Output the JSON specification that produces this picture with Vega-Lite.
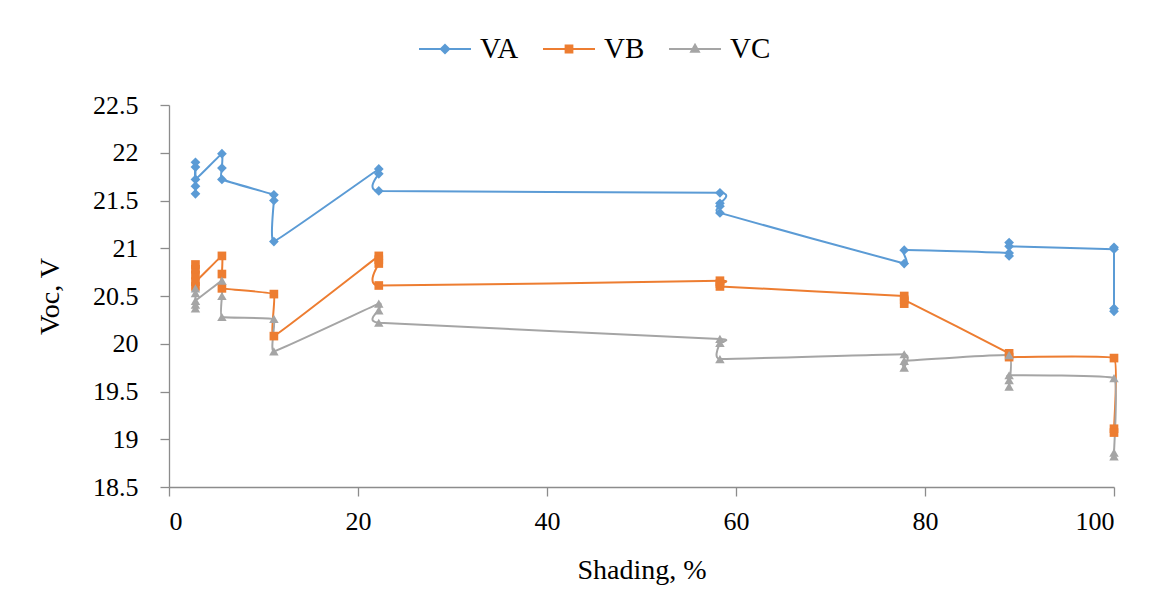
{
  "$schema": "https://vega.github.io/schema/vega-lite/v6.json",
  "width": 945,
  "height": 382,
  "autosize": {"type": "none"},
  "padding": {"left": 169, "top": 105, "right": 47, "bottom": 128},
  "background": "white",
  "config": {
    "view": {"stroke": null},
    "font": "Liberation Serif",
    "axis": {
      "grid": false,
      "domainColor": "#8c8c8c",
      "tickColor": "#8c8c8c",
      "domainWidth": 1.3,
      "tickWidth": 1.3,
      "labelColor": "#000000",
      "titleColor": "#000000",
      "labelFont": "Liberation Serif",
      "titleFont": "Liberation Serif",
      "labelFontSize": 26,
      "titleFontSize": 28,
      "titleFontWeight": "normal"
    }
  },
  "data": {
    "values": [
      {"s": "VA", "i": 1, "x": 2.8, "y": 21.57},
      {"s": "VA", "i": 2, "x": 2.8, "y": 21.65},
      {"s": "VA", "i": 3, "x": 2.8, "y": 21.85},
      {"s": "VA", "i": 4, "x": 2.8, "y": 21.9},
      {"s": "VA", "i": 5, "x": 2.8, "y": 21.72},
      {"s": "VA", "i": 6, "x": 5.6, "y": 21.99},
      {"s": "VA", "i": 7, "x": 5.6, "y": 21.84},
      {"s": "VA", "i": 8, "x": 5.6, "y": 21.72},
      {"s": "VA", "i": 9, "x": 11.1, "y": 21.56},
      {"s": "VA", "i": 10, "x": 11.1, "y": 21.5},
      {"s": "VA", "i": 11, "x": 11.1, "y": 21.07},
      {"s": "VA", "i": 12, "x": 22.2, "y": 21.83},
      {"s": "VA", "i": 13, "x": 22.2, "y": 21.78},
      {"s": "VA", "i": 14, "x": 22.2, "y": 21.6},
      {"s": "VA", "i": 15, "x": 58.3, "y": 21.58},
      {"s": "VA", "i": 16, "x": 58.3, "y": 21.47},
      {"s": "VA", "i": 17, "x": 58.3, "y": 21.44},
      {"s": "VA", "i": 18, "x": 58.3, "y": 21.37},
      {"s": "VA", "i": 19, "x": 77.8, "y": 20.84},
      {"s": "VA", "i": 20, "x": 77.8, "y": 20.98},
      {"s": "VA", "i": 21, "x": 88.9, "y": 20.95},
      {"s": "VA", "i": 22, "x": 88.9, "y": 20.92},
      {"s": "VA", "i": 23, "x": 88.9, "y": 21.06},
      {"s": "VA", "i": 24, "x": 88.9, "y": 21.02},
      {"s": "VA", "i": 25, "x": 100, "y": 20.99},
      {"s": "VA", "i": 26, "x": 100, "y": 21.01},
      {"s": "VA", "i": 27, "x": 100, "y": 20.37},
      {"s": "VA", "i": 28, "x": 100, "y": 20.34},
      {"s": "VB", "i": 1, "x": 2.8, "y": 20.6},
      {"s": "VB", "i": 2, "x": 2.8, "y": 20.72},
      {"s": "VB", "i": 3, "x": 2.8, "y": 20.78},
      {"s": "VB", "i": 4, "x": 2.8, "y": 20.83},
      {"s": "VB", "i": 5, "x": 2.8, "y": 20.65},
      {"s": "VB", "i": 6, "x": 5.6, "y": 20.92},
      {"s": "VB", "i": 7, "x": 5.6, "y": 20.73},
      {"s": "VB", "i": 8, "x": 5.6, "y": 20.58},
      {"s": "VB", "i": 9, "x": 11.1, "y": 20.52},
      {"s": "VB", "i": 10, "x": 11.1, "y": 20.08},
      {"s": "VB", "i": 11, "x": 22.2, "y": 20.92},
      {"s": "VB", "i": 12, "x": 22.2, "y": 20.88},
      {"s": "VB", "i": 13, "x": 22.2, "y": 20.84},
      {"s": "VB", "i": 14, "x": 22.2, "y": 20.61},
      {"s": "VB", "i": 15, "x": 58.3, "y": 20.66},
      {"s": "VB", "i": 16, "x": 58.3, "y": 20.63},
      {"s": "VB", "i": 17, "x": 58.3, "y": 20.6},
      {"s": "VB", "i": 18, "x": 77.8, "y": 20.5},
      {"s": "VB", "i": 19, "x": 77.8, "y": 20.42},
      {"s": "VB", "i": 20, "x": 77.8, "y": 20.46},
      {"s": "VB", "i": 21, "x": 88.9, "y": 19.9},
      {"s": "VB", "i": 22, "x": 88.9, "y": 19.86},
      {"s": "VB", "i": 23, "x": 100, "y": 19.85},
      {"s": "VB", "i": 24, "x": 100, "y": 19.11},
      {"s": "VB", "i": 25, "x": 100, "y": 19.07},
      {"s": "VC", "i": 1, "x": 2.8, "y": 20.58},
      {"s": "VC", "i": 2, "x": 2.8, "y": 20.53},
      {"s": "VC", "i": 3, "x": 2.8, "y": 20.37},
      {"s": "VC", "i": 4, "x": 2.8, "y": 20.41},
      {"s": "VC", "i": 5, "x": 2.8, "y": 20.45},
      {"s": "VC", "i": 6, "x": 5.6, "y": 20.66},
      {"s": "VC", "i": 7, "x": 5.6, "y": 20.5},
      {"s": "VC", "i": 8, "x": 5.6, "y": 20.28},
      {"s": "VC", "i": 9, "x": 11.1, "y": 20.26},
      {"s": "VC", "i": 10, "x": 11.1, "y": 19.92},
      {"s": "VC", "i": 11, "x": 22.2, "y": 20.42},
      {"s": "VC", "i": 12, "x": 22.2, "y": 20.35},
      {"s": "VC", "i": 13, "x": 22.2, "y": 20.22},
      {"s": "VC", "i": 14, "x": 58.3, "y": 20.05},
      {"s": "VC", "i": 15, "x": 58.3, "y": 20.01},
      {"s": "VC", "i": 16, "x": 58.3, "y": 19.84},
      {"s": "VC", "i": 17, "x": 77.8, "y": 19.89},
      {"s": "VC", "i": 18, "x": 77.8, "y": 19.75},
      {"s": "VC", "i": 19, "x": 77.8, "y": 19.82},
      {"s": "VC", "i": 20, "x": 88.9, "y": 19.88},
      {"s": "VC", "i": 21, "x": 88.9, "y": 19.55},
      {"s": "VC", "i": 22, "x": 88.9, "y": 19.62},
      {"s": "VC", "i": 23, "x": 88.9, "y": 19.67},
      {"s": "VC", "i": 24, "x": 100, "y": 19.64},
      {"s": "VC", "i": 25, "x": 100, "y": 18.86},
      {"s": "VC", "i": 26, "x": 100, "y": 18.82}
    ]
  },
  "encoding": {
    "x": {
      "field": "x",
      "type": "quantitative",
      "scale": {"domain": [0, 100], "nice": false, "zero": false},
      "axis": {
        "values": [0, 20, 40, 60, 80, 100],
        "title": "Shading, %",
        "labelFont": "Liberation Serif",
        "titleFont": "Liberation Serif",
        "labelFontSize": 26,
        "titleFontSize": 28,
        "tickSize": 9,
        "labelPadding": 12,
        "titlePadding": 22
      }
    },
    "y": {
      "field": "y",
      "type": "quantitative",
      "scale": {"domain": [18.5, 22.5], "nice": false, "zero": false},
      "axis": {
        "values": [18.5, 19, 19.5, 20, 20.5, 21, 21.5, 22, 22.5],
        "format": "~g",
        "title": "Voc, V",
        "labelFont": "Liberation Serif",
        "titleFont": "Liberation Serif",
        "labelFontSize": 26,
        "titleFontSize": 28,
        "tickSize": 9,
        "labelPadding": 22,
        "titlePadding": 28
      }
    },
    "color": {
      "field": "s",
      "type": "nominal",
      "scale": {"domain": ["VA", "VB", "VC"], "range": ["#5B9BD5", "#ED7D31", "#A5A5A5"]},
      "legend": {
        "orient": "none",
        "legendX": 249,
        "legendY": -83,
        "direction": "horizontal",
        "title": null,
        "padding": 0,
        "labelFont": "Liberation Serif",
        "labelFontSize": 29,
        "labelColor": "#000000",
        "labelOffset": 8,
        "columnPadding": 20,
        "symbolSize": 2704,
        "encode": {
          "symbols": {
            "update": {
              "shape": {"signal": "datum.value === 'VA' ? 'M-1,0L1,0M0,-0.16L0.16,0L0,0.16L-0.16,0Z' : datum.value === 'VB' ? 'M-1,0L1,0M-0.13,-0.13L0.13,-0.13L0.13,0.13L-0.13,0.13Z' : 'M-1,0L1,0M0,-0.16L0.15,0.11L-0.15,0.11Z'"},
              "fill": {"scale": "color", "field": "value"},
              "stroke": {"scale": "color", "field": "value"},
              "strokeWidth": {"value": 2},
              "opacity": {"value": 1},
              "fillOpacity": {"value": 1}
            }
          }
        }
      }
    }
  },
  "layer": [
    {
      "mark": {"type": "line", "interpolate": "cardinal", "tension": 0.75, "strokeWidth": 2},
      "encoding": {
        "order": {"field": "i", "type": "quantitative"}
      }
    },
    {
      "mark": {"type": "point", "filled": true, "opacity": 1},
      "encoding": {
        "shape": {
          "condition": [
            {"test": "datum.s === 'VA'", "value": "diamond"},
            {"test": "datum.s === 'VB'", "value": "square"}
          ],
          "value": "triangle-up"
        },
        "size": {
          "condition": [
            {"test": "datum.s === 'VA'", "value": 95},
            {"test": "datum.s === 'VB'", "value": 75}
          ],
          "value": 90
        }
      }
    }
  ]
}
